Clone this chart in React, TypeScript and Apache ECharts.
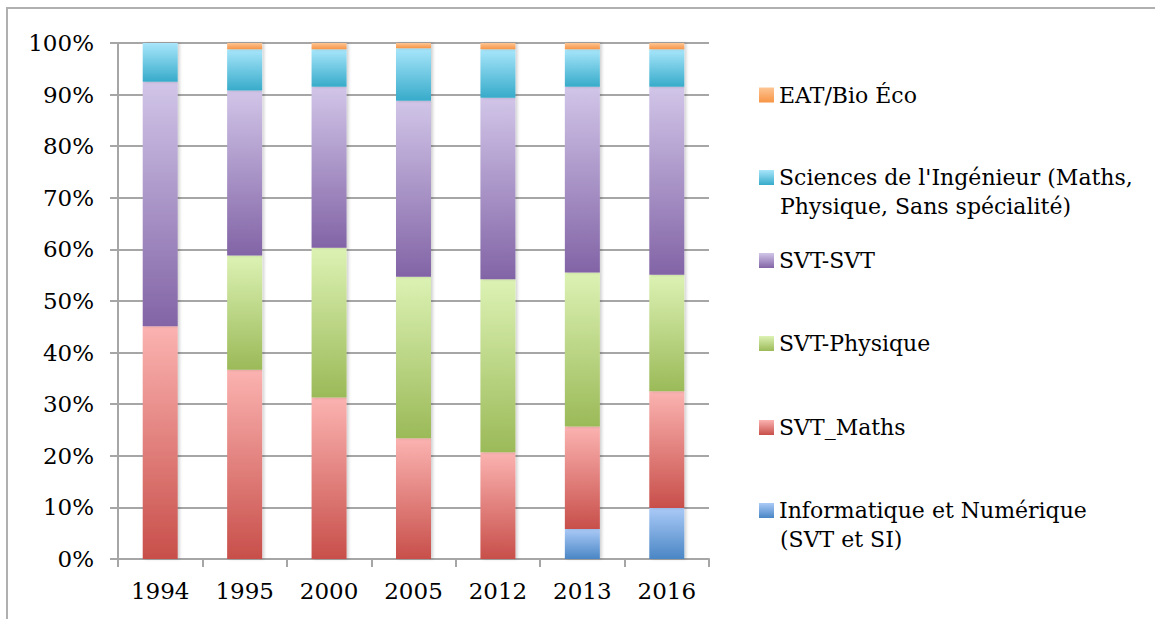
import React, { useEffect, useRef } from "react";
import * as echarts from "echarts";

const years = ["1994", "1995", "2000", "2005", "2012", "2013", "2016"];
const info = [0, 0, 0, 0, 0, 5.8, 9.9];
const maths = [45.1, 36.7, 31.3, 23.4, 20.7, 19.9, 22.6];
const physique = [0, 22.1, 29.0, 31.3, 33.5, 29.8, 22.6];
const svt = [47.4, 32.0, 31.2, 34.1, 35.2, 36.0, 36.4];
const si = [7.5, 8.0, 7.3, 10.2, 9.4, 7.3, 7.3];
const eat = [0, 1.2, 1.2, 1.0, 1.2, 1.2, 1.2];

const seriesNames = [
  "Informatique et Numérique (SVT et SI)",
  "SVT_Maths",
  "SVT-Physique",
  "SVT-SVT",
  "Sciences de l'Ingénieur (Maths, Physique, Sans spécialité)",
  "EAT/Bio Éco",
];
const legendFirstLine: Record<string, string> = {
  "Informatique et Numérique (SVT et SI)": "Informatique et Numérique",
  "Sciences de l'Ingénieur (Maths, Physique, Sans spécialité)": "Sciences de l'Ingénieur (Maths,",
};
const legendSecondLine: Record<string, string> = {
  "Informatique et Numérique (SVT et SI)": "(SVT et SI)",
  "Sciences de l'Ingénieur (Maths, Physique, Sans spécialité)": "Physique, Sans spécialité)",
};
const seriesValues = [info, maths, physique, svt, si, eat];
const gradients = [
  ["#aacaf7", "#4a86c5"],
  ["#fbb3b1", "#c84f4a"],
  ["#dcf2b4", "#9bba58"],
  ["#d1c5e8", "#8264a6"],
  ["#a8e6fb", "#37abca"],
  ["#fdc593", "#f79546"],
];

const FONT = "DejaVu Serif";
const FS = 22;
const AXFS = 23;

export default function App() {
  const ref = useRef<HTMLDivElement>(null);
  useEffect(() => {
    if (!ref.current) return;
    const chart = echarts.init(ref.current, null, { renderer: "svg" });
    const legendOrder = [5, 4, 3, 2, 1, 0];
    const legendCenters = [95, 177.5, 260.5, 343.5, 427.5, 510.5];
    const legends = legendOrder.map((si_, i) => ({
      data: [seriesNames[si_]],
      orient: "vertical",
      left: 759,
      top: legendCenters[i] - 14,
      padding: 0,
      itemWidth: 15,
      itemHeight: 15,
      itemGap: 6,
      icon: "rect",
      selectedMode: false,
      formatter: (n: string) => legendFirstLine[n] || n,
      textStyle: { fontFamily: FONT, fontSize: FS, color: "#000", lineHeight: 28, padding: [0, 0, 0, 0] },
    }));
    const graphics: any[] = [
      {
        type: "rect",
        shape: { x: 7, y: 8, width: 1170, height: 640 },
        style: { fill: "none", stroke: "#b0b0b0", lineWidth: 2 },
        silent: true,
      },
    ];
    legendOrder.forEach((si_, i) => {
      const second = legendSecondLine[seriesNames[si_]];
      if (second) {
        graphics.push({
          type: "text",
          x: 780,
          y: legendCenters[i] + 29,
          style: { text: second, fontFamily: FONT, fontSize: FS, fill: "#000", verticalAlign: "middle", align: "left" },
          silent: true,
        });
      }
    });
    chart.setOption({
      animation: false,
      backgroundColor: "#fff",
      grid: { left: 118, right: 446, top: 43, bottom: 60, containLabel: false },
      legend: legends,
      graphic: graphics,
      xAxis: {
        type: "category",
        data: years,
        axisLine: { lineStyle: { color: "#a6a6a6", width: 2 } },
        axisTick: { show: true, length: 8, alignWithLabel: false, lineStyle: { color: "#a6a6a6", width: 2 } },
        axisLabel: { fontFamily: FONT, fontSize: AXFS, color: "#000", margin: 20 },
      },
      yAxis: {
        type: "value",
        min: 0,
        max: 100,
        interval: 10,
        axisLine: { show: true, lineStyle: { color: "#a6a6a6", width: 2 } },
        axisTick: { show: true, length: 8, lineStyle: { color: "#a6a6a6", width: 2 } },
        splitLine: { show: true, lineStyle: { color: "#a6a6a6", width: 2 } },
        axisLabel: { fontFamily: FONT, fontSize: AXFS, color: "#000", margin: 24, formatter: "{value}%" },
      },
      series: seriesValues.map((vals, i) => ({
        name: seriesNames[i],
        type: "bar",
        stack: "total",
        barWidth: 35,
        data: vals.map((v) => (v === 0 ? "-" : v)),
        itemStyle: {
          color: new echarts.graphic.LinearGradient(0, 0, 0, 1, [
            { offset: 0, color: gradients[i][0] },
            { offset: 1, color: gradients[i][1] },
          ]),
          shadowColor: "rgba(0,0,0,0.18)",
          shadowBlur: 3,
          shadowOffsetX: 2,
          shadowOffsetY: 0,
        },
      })),
    });
    return () => chart.dispose();
  }, []);
  return (
    <div
      ref={ref}
      style={{ position: "fixed", left: 0, top: 0, width: 1155, height: 619 }}
    />
  );
}
